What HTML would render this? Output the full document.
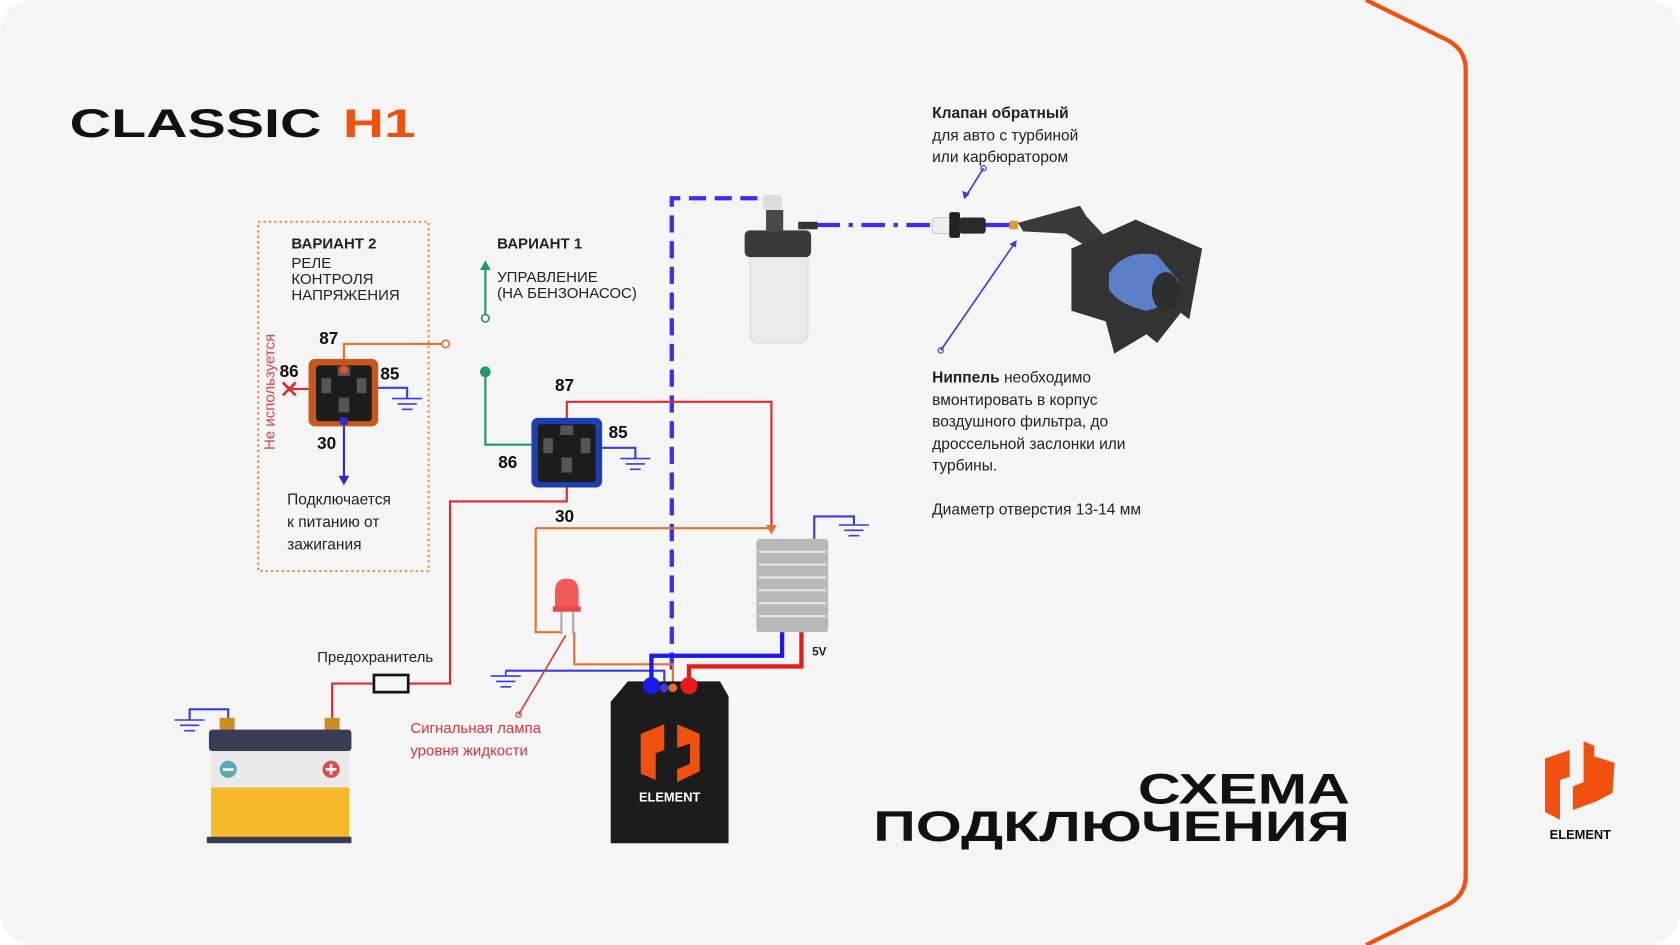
<!DOCTYPE html>
<html><head><meta charset="utf-8"><style>
html,body{margin:0;padding:0;background:#fff;}
svg{display:block;}
text{font-family:"Liberation Sans","DejaVu Sans",sans-serif;}
</style></head><body>
<svg width="1680" height="945" viewBox="0 0 1568 882" xmlns="http://www.w3.org/2000/svg">
<rect x="0" y="0" width="1568" height="882" rx="30" fill="#f5f5f5"/>
<path d="M1275,0 L1352,38 Q1368,47 1368,65 L1368,817 Q1368,835 1352,844 L1275,882" fill="none" stroke="#f2500f" stroke-width="4"/>

<!-- titles -->
<text x="65" y="128" font-size="37" font-weight="bold" fill="#111" textLength="235" lengthAdjust="spacingAndGlyphs">CLASSIC</text>
<text x="320" y="128" font-size="37" font-weight="bold" fill="#f2500f" textLength="68" lengthAdjust="spacingAndGlyphs">H1</text>
<text x="1260" y="750" font-size="40" font-weight="bold" fill="#111" text-anchor="end" textLength="198" lengthAdjust="spacingAndGlyphs">СХЕМА</text>
<text x="1260" y="785" font-size="40" font-weight="bold" fill="#111" text-anchor="end" textLength="445" lengthAdjust="spacingAndGlyphs">ПОДКЛЮЧЕНИЯ</text>

<!-- variant 2 box -->
<rect x="241" y="207" width="159" height="326" fill="none" stroke="#f08a3c" stroke-width="2" stroke-dasharray="2,3"/>
<g font-size="14" fill="#222">
<text x="272" y="232" font-weight="bold">ВАРИАНТ 2</text>
<text x="272" y="250">РЕЛЕ</text>
<text x="272" y="265">КОНТРОЛЯ</text>
<text x="272" y="280">НАПРЯЖЕНИЯ</text>
<text x="268" y="471" font-size="14.5">Подключается</text>
<text x="268" y="492" font-size="14.5">к питанию от</text>
<text x="268" y="513" font-size="14.5">зажигания</text>
<text x="464" y="232" font-weight="bold">ВАРИАНТ 1</text>
<text x="464" y="263">УПРАВЛЕНИЕ</text>
<text x="464" y="278">(НА БЕНЗОНАСОС)</text>
<text x="296" y="618">Предохранитель</text>
</g>
<text x="0" y="0" font-size="14" fill="#e0404a" transform="translate(256,420) rotate(-90)">Не используется</text>
<g font-size="16" font-weight="bold" fill="#111">
<text x="298" y="321">87</text><text x="261" y="352">86</text><text x="355" y="354">85</text><text x="296" y="419">30</text>
<text x="518" y="365">87</text><text x="568" y="409">85</text><text x="465" y="437">86</text><text x="518" y="487">30</text>
</g>
<text x="758" y="612" font-size="11" font-weight="bold" fill="#222">5V</text>
<text x="383" y="684" font-size="14" fill="#d8343c">Сигнальная лампа</text>
<text x="383" y="705" font-size="14" fill="#d8343c">уровня жидкости</text>

<g font-size="14.5" fill="#222">
<text x="870" y="110" font-weight="bold">Клапан обратный</text>
<text x="870" y="131">для авто с турбиной</text>
<text x="870" y="151">или карбюратором</text>
<text x="870" y="357"><tspan font-weight="bold">Ниппель</tspan> необходимо</text>
<text x="870" y="378">вмонтировать в корпус</text>
<text x="870" y="398">воздушного фильтра, до</text>
<text x="870" y="419">дроссельной заслонки или</text>
<text x="870" y="439">турбины.</text>
<text x="870" y="480">Диаметр отверстия 13-14 мм</text>
</g>

<!-- hydrogen line -->
<path d="M627,625 L627,185 L712,185" fill="none" stroke="#3b2ef0" stroke-width="4" stroke-dasharray="16,8"/>
<path d="M762,210 L870,210" fill="none" stroke="#3b2ef0" stroke-width="4" stroke-dasharray="22,8,4,8"/>
<path d="M915,210 L945,210" stroke="#3b2ef0" stroke-width="4"/>

<!-- wires -->
<g fill="none" stroke-width="2">
<path d="M529,392 L529,375 L720,375 L720,495" stroke="#e02a2a"/>
<path d="M529,455 L529,468 L420,468 L420,638 L381,638 M349,638 L310,638 L310,672" stroke="#e02a2a"/>
<path d="M500,493 L720,493 M500,493 L500,590 L524,590 M536,590 L536,620 L628,620 L628,638" stroke="#e8702a"/>
<path d="M472,626 L620,626 L620,638" stroke="#3b3be0"/>
<path d="M760,503 L760,482 L797,482 L797,490" stroke="#3b3be0"/>
<path d="M213,672 L213,662 L177,662 L177,672" stroke="#3b3be0"/>
<path d="M453,347 L453,415 L496,415" stroke="#1f9a66"/>
<path d="M453,297 L453,250" stroke="#1f9a66"/>
<path d="M321,345 L321,321 L416,321" stroke="#e8702a"/>
<path d="M321,393 L321,446" stroke="#2a2ad0"/>
<path d="M345,362 L380,362 L380,372" stroke="#3b3be0"/>
<path d="M562,418 L593,418 L593,428" stroke="#3b3be0"/>
<path d="M270,363 L288,363" stroke="#e02a2a"/>
<path d="M918,157 L901,184" stroke="#3b3be0" stroke-width="1.5"/>
<path d="M878,327 L947,227" stroke="#3b3be0" stroke-width="1.5"/>
<path d="M484,667 L528,593" stroke="#d8343c" stroke-width="1.5"/>
</g>
<g fill="none" stroke-width="4">
<path d="M730,590 L730,612 L608,612 L608,636" stroke="#1a1aee"/>
<path d="M748,590 L748,622 L643,622 L643,636" stroke="#e81a1a"/>
</g>
<!-- arrowheads / dots -->
<path d="M453,243 L448,252 L458,252Z" fill="#1f9a66"/>
<circle cx="453" cy="297" r="3.5" fill="#f5f5f5" stroke="#1f9a66" stroke-width="1.5"/>
<circle cx="453" cy="347" r="5" fill="#1f9a66"/>
<circle cx="416" cy="321" r="3.5" fill="#f5f5f5" stroke="#e8702a" stroke-width="1.5"/>
<path d="M321,453 L316,444 L326,444Z" fill="#2a2ad0"/>
<path d="M720,499 L715,490 L725,490Z" fill="#e8702a"/>
<path d="M900,186 L898,178 L905,181Z" fill="#3b3be0"/>
<path d="M949,224 L942,228 L948,231Z" fill="#3b3be0"/>
<circle cx="918" cy="157" r="2.5" fill="none" stroke="#3b3be0"/>
<circle cx="878" cy="327" r="2.5" fill="none" stroke="#3b3be0"/>
<circle cx="484" cy="667" r="2.5" fill="none" stroke="#d8343c"/>
<path d="M264,357 L276,369 M276,357 L264,369" stroke="#e02a2a" stroke-width="2.5"/>
<!-- grounds -->
<g stroke="#3b3be0" stroke-width="1.5">
<path d="M366,372 L394,372 M371,377 L389,377 M375,382 L385,382"/>
<path d="M579,428 L607,428 M584,433 L602,433 M588,438 L598,438"/>
<path d="M783,490 L811,490 M788,495 L806,495 M792,500 L802,500"/>
<path d="M163,672 L191,672 M168,677 L186,677 M172,682 L182,682"/>
<path d="M458,631 L486,631 M463,636 L481,636 M467,641 L477,641"/>
<path d="M472,626 L472,631"/>
</g>
<!-- fuse -->
<rect x="349" y="630" width="32" height="16" fill="none" stroke="#111" stroke-width="2.5"/>

<!-- relay 2 -->
<rect x="288" y="335" width="65" height="63" rx="6" fill="#c9561c"/>
<rect x="295" y="341" width="52" height="52" rx="3" fill="#1c1c1c"/>
<rect x="315" y="342" width="12" height="9" fill="#555"/><rect x="300" y="353" width="9" height="14" fill="#555"/><rect x="333" y="353" width="9" height="14" fill="#555"/><rect x="316" y="371" width="10" height="14" fill="#555"/>
<circle cx="321" cy="345" r="4" fill="#e8502a"/><circle cx="321" cy="393" r="4" fill="#2a2ad0"/>
<!-- relay 1 -->
<rect x="496" y="390" width="66" height="65" rx="6" fill="#1d3fb0"/>
<rect x="502" y="396" width="54" height="54" rx="3" fill="#1c1c1c"/>
<rect x="523" y="397" width="12" height="9" fill="#555"/><rect x="507" y="409" width="9" height="14" fill="#555"/><rect x="542" y="409" width="9" height="14" fill="#555"/><rect x="524" y="427" width="10" height="14" fill="#555"/>

<!-- LED -->
<path d="M518,568 L518,552 Q518,540 529,540 Q540,540 540,552 L540,568Z" fill="#f05a5a"/>
<rect x="516" y="566" width="26" height="5" fill="#e84848"/>
<path d="M524,571 L524,592 M535,571 L535,592" stroke="#aaa" stroke-width="2"/>

<!-- converter -->
<rect x="706" y="503" width="67" height="87" rx="3" fill="#b8b8b8"/>
<g stroke="#e6e6e6" stroke-width="2"><path d="M708,515H771M708,527H771M708,539H771M708,551H771M708,563H771M708,575H771"/></g>

<!-- bottle -->
<rect x="700" y="235" width="54" height="85" rx="8" fill="#e8eaec" stroke="#d4d6d8"/>
<rect x="695" y="215" width="62" height="25" rx="5" fill="#3a3a3a"/>
<rect x="715" y="196" width="16" height="20" fill="#4a4a4a"/>
<rect x="712" y="182" width="18" height="14" rx="3" fill="#ddd"/>
<rect x="745" y="207" width="18" height="7" fill="#333"/>
<!-- valve -->
<rect x="870" y="203" width="20" height="15" rx="4" fill="#eee" stroke="#ccc"/>
<rect x="886" y="198" width="10" height="24" rx="2" fill="#222"/>
<rect x="895" y="203" width="25" height="15" rx="3" fill="#2a2a2a"/>
<rect x="942" y="206" width="8" height="8" fill="#e09a30"/>
<!-- air filter -->
<path d="M950,208 L990,197 L1008,192 L1014,202 L1040,230 L1030,240 L995,218 L955,216Z" fill="#3a3a3a"/>
<path d="M1000,232 L1060,205 L1122,232 L1110,298 L1102,292 L1080,320 L1070,312 L1040,330 L1032,300 L1000,290Z" fill="#333"/>
<path d="M1035,255 Q1050,232 1080,238 L1100,262 Q1095,285 1070,290 Q1045,285 1035,270Z" fill="#5b7fc8"/>
<ellipse cx="1088" cy="272" rx="13" ry="18" fill="#2e2e2e"/>

<!-- battery -->
<rect x="205" y="670" width="14" height="12" fill="#c89020"/><rect x="303" y="670" width="14" height="12" fill="#c89020"/>
<rect x="195" y="681" width="133" height="20" rx="3" fill="#3a3b55"/>
<rect x="197" y="701" width="129" height="34" fill="#e9e9e9"/>
<rect x="197" y="735" width="129" height="48" fill="#f6b92a"/>
<rect x="193" y="781" width="135" height="6" fill="#3a3b55"/>
<circle cx="213" cy="718" r="8" fill="#5aa8b8"/><rect x="208" y="717" width="10" height="2.5" fill="#fff"/>
<circle cx="309" cy="718" r="8" fill="#e54848"/><path d="M304,718H314M309,713V723" stroke="#fff" stroke-width="2.5"/>

<!-- element box -->
<path d="M576,648 L586,636 L672,636 L680,650 L680,787 L570,787 L570,655Z" fill="#1c1c1c"/>
<circle cx="608" cy="640" r="8" fill="#1a1aee"/><circle cx="620" cy="642" r="4" fill="#3b3be0"/><circle cx="628" cy="642" r="4" fill="#e8702a"/><circle cx="643" cy="640" r="8" fill="#e81a1a"/>
<path d="M598,685 L620,676 L620,700 L612,703 L612,728 L598,722Z M632,676 L653,685 L653,720 L632,730 L632,718 L644,713 L644,694 L632,698Z" fill="#f2500f"/>
<text x="625" y="748" font-size="12" font-weight="bold" fill="#fff" text-anchor="middle">ELEMENT</text>

<!-- logo -->
<path d="M1442,708 L1465,700 L1465,725 L1456,728 L1456,765 L1442,758Z M1478,692 L1478,730 L1468,734 L1468,756 L1490,748 L1505,740 L1507,712 L1488,706 L1488,696Z" fill="#f2500f"/>
<text x="1475" y="783" font-size="12" font-weight="bold" fill="#111" text-anchor="middle">ELEMENT</text>
</svg>
</body></html>
